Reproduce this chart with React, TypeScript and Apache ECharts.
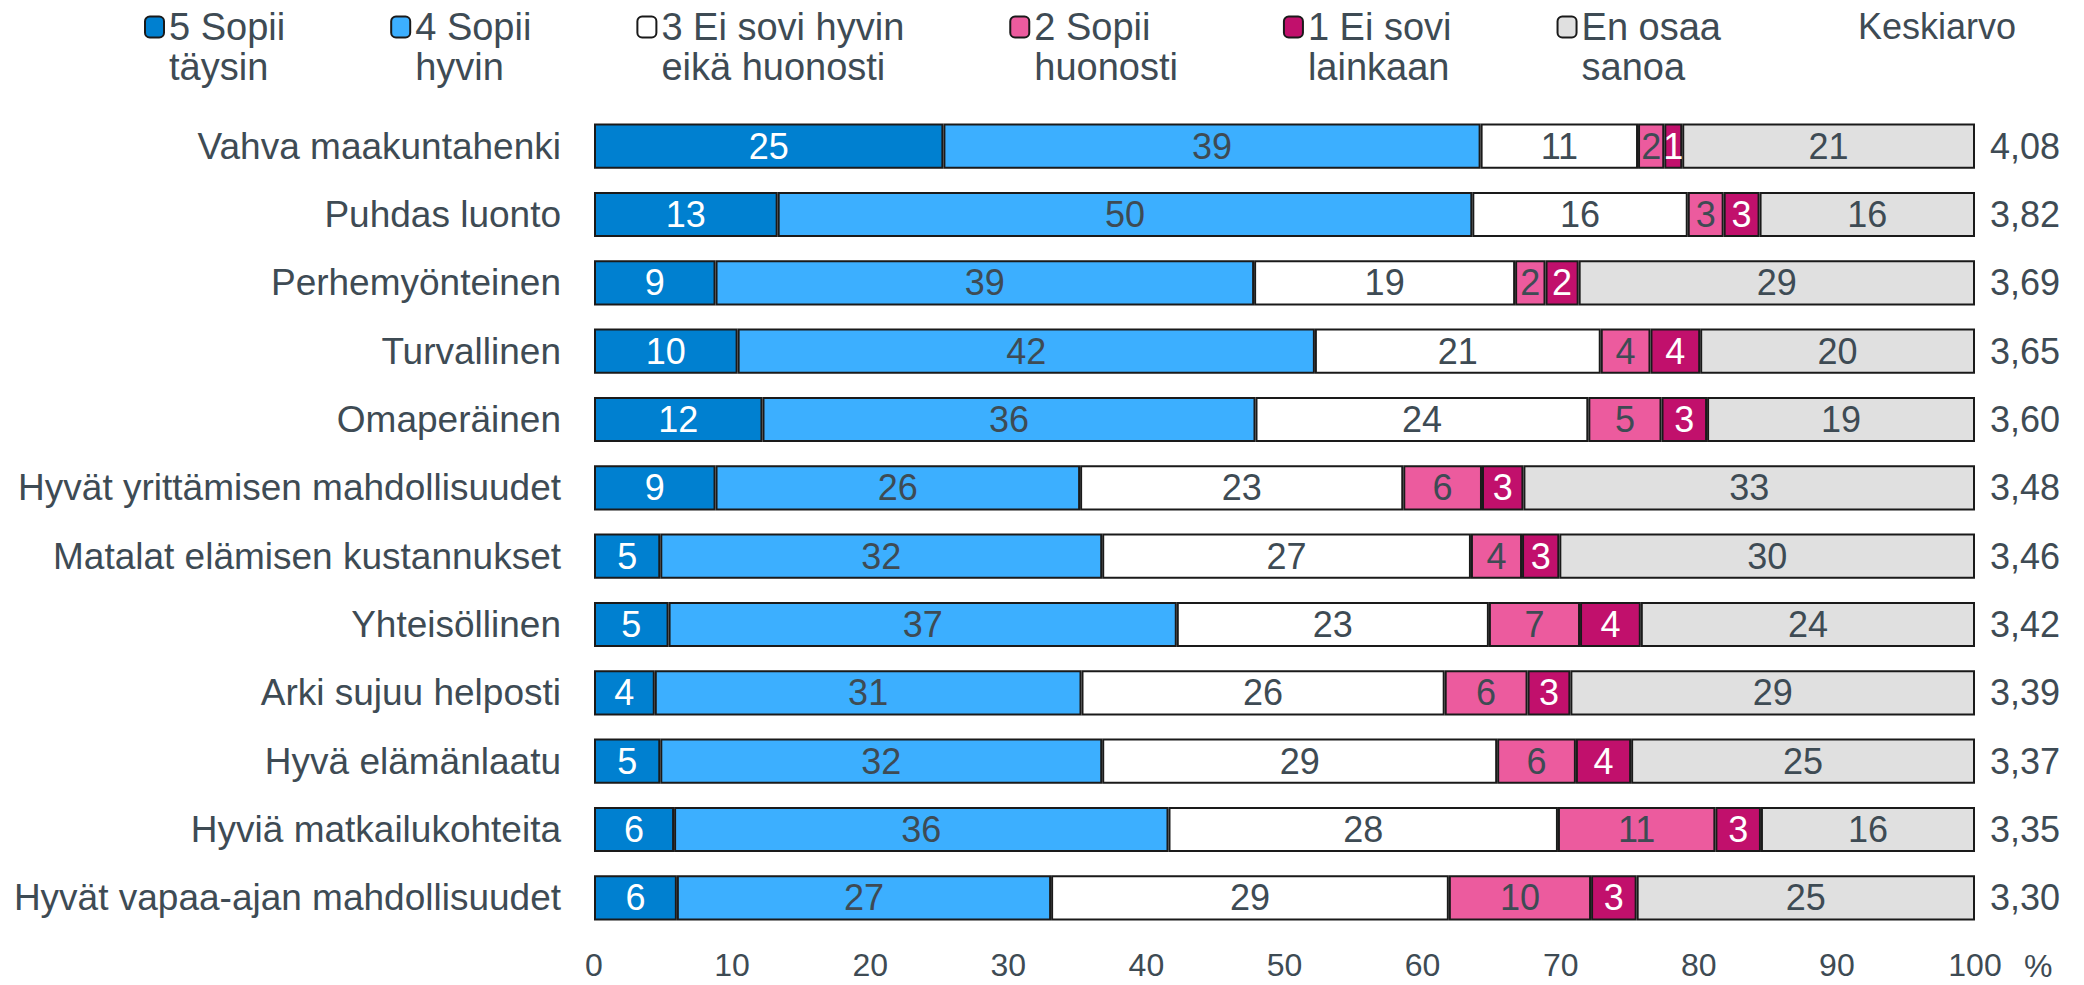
import React, { useEffect, useRef } from "react";
import * as echarts from "echarts";

const categories = [
  "Vahva maakuntahenki",
  "Puhdas luonto",
  "Perhemyönteinen",
  "Turvallinen",
  "Omaperäinen",
  "Hyvät yrittämisen mahdollisuudet",
  "Matalat elämisen kustannukset",
  "Yhteisöllinen",
  "Arki sujuu helposti",
  "Hyvä elämänlaatu",
  "Hyviä matkailukohteita",
  "Hyvät vapaa-ajan mahdollisuudet",
];

const seriesNames = [
  "5 Sopii\ntäysin",
  "4 Sopii\nhyvin",
  "3 Ei sovi hyvin\neikä huonosti",
  "2 Sopii\nhuonosti",
  "1 Ei sovi\nlainkaan",
  "En osaa\nsanoa",
];

const s5 = [25.3, 13.3, 8.8, 10.4, 12.2, 8.8, 4.8, 5.4, 4.4, 4.8, 5.8, 6.0];
const s4 = [38.9, 50.3, 39.0, 41.8, 35.7, 26.4, 32.0, 36.8, 30.9, 32.0, 35.8, 27.1];
const s3 = [11.4, 15.6, 18.9, 20.7, 24.1, 23.4, 26.7, 22.6, 26.3, 28.6, 28.2, 28.8];
const s2 = [1.9, 2.6, 2.2, 3.6, 5.3, 5.7, 3.7, 6.6, 6.0, 5.7, 11.4, 10.3];
const s1 = [1.3, 2.6, 2.4, 3.6, 3.3, 3.0, 2.7, 4.4, 3.1, 4.0, 3.3, 3.3];
const eos = [21.2, 15.6, 28.7, 19.9, 19.4, 32.7, 30.1, 24.2, 29.3, 24.9, 15.5, 24.5];

const means = [4.08, 3.82, 3.69, 3.65, 3.6, 3.48, 3.46, 3.42, 3.39, 3.37, 3.35, 3.3];

const xTicks = [0, 10, 20, 30, 40, 50, 60, 70, 80, 90, 100];

const colors = ["#0080d0", "#3cafff", "#ffffff", "#ec5b9e", "#c1106c", "#e0e0e0"];
const labelColors = ["#ffffff", "#3e4b54", "#3e4b54", "#3e4b54", "#ffffff", "#3e4b54"];

const FONT = "'Liberation Sans', Arial, sans-serif";
const TEXT = "#3e4b54";

export default function App() {
  const ref = useRef<HTMLDivElement>(null);

  useEffect(() => {
    if (!ref.current) return;
    const chart = echarts.init(ref.current, null, { renderer: "svg" });
    const values = [s5, s4, s3, s2, s1, eos];

    chart.setOption({
      animation: false,
      textStyle: { fontFamily: FONT, color: TEXT },
      legend: {
        left: 144,
        top: -33,
        padding: 0,
        itemGap: 105,
        itemWidth: 19,
        itemHeight: 21,
        data: seriesNames,
        formatter: (name: string) => " \n" + name,
        textStyle: {
          fontSize: 38,
          lineHeight: 40,
          color: TEXT,
          fontFamily: FONT,
        },
      },
      grid: { left: 594, right: 109, top: 112, bottom: 53, containLabel: false },
      xAxis: {
        type: "value",
        min: xTicks[0],
        max: xTicks[xTicks.length - 1],
        interval: 10,
        axisLine: { show: false },
        axisTick: { show: false },
        splitLine: { show: false },
        axisLabel: { fontSize: 32, lineHeight: 30, color: TEXT, fontFamily: FONT, margin: 18 },
      },
      yAxis: [
        {
          type: "category",
          data: categories,
          inverse: true,
          axisLine: { show: false },
          axisTick: { show: false },
          axisLabel: { fontSize: 37, color: TEXT, fontFamily: FONT, margin: 33 },
        },
        {
          type: "category",
          data: means.map((m) => m.toFixed(2).replace(".", ",")),
          inverse: true,
          position: "right",
          axisLine: { show: false },
          axisTick: { show: false },
          axisLabel: { fontSize: 36, color: TEXT, fontFamily: FONT, margin: 15, align: "left" },
        },
      ],
      series: seriesNames.map((name, i) => ({
        name,
        type: "bar",
        stack: "total",
        yAxisIndex: 0,
        barCategoryGap: "34%",
        data: values[i],
        itemStyle: { color: colors[i], borderColor: "#1a1a1a", borderWidth: 2 },
        emphasis: { disabled: true },
        label: {
          show: true,
          position: "inside",
          fontSize: 36,
          fontFamily: FONT,
          color: labelColors[i],
          formatter: (p: any) => String(Math.round(p.value)),
        },
      })),
      graphic: [
        {
          type: "text",
          left: 1858,
          top: 8,
          style: { text: "Keskiarvo", fontSize: 36, fill: TEXT, fontFamily: FONT },
        },
        {
          type: "text",
          left: 2024,
          top: 950,
          style: { text: "%", fontSize: 32, lineHeight: 30, fill: TEXT, fontFamily: FONT },
        },
      ],
    });

    return () => chart.dispose();
  }, []);

  return (
    <div
      ref={ref}
      style={{ position: "fixed", left: 0, top: 0, width: 2084, height: 985, background: "#fff" }}
    />
  );
}
